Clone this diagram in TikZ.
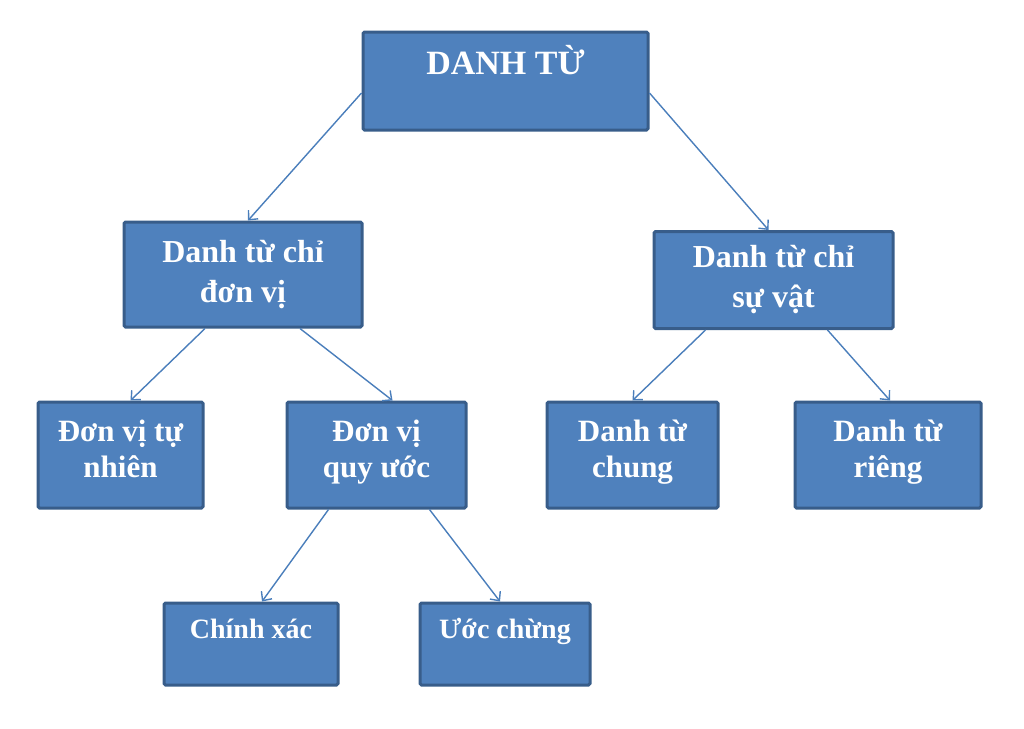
\documentclass[tikz,border=0pt]{standalone}
\usepackage{fontspec}
\setmainfont{Liberation Serif}
\usetikzlibrary{arrows.meta}
\definecolor{boxfill}{HTML}{4F81BD}
\definecolor{boxline}{HTML}{385D8A}
\definecolor{arrline}{HTML}{4A7EBB}
\tikzset{
  box/.style={draw=boxline, fill=boxfill, line width=3pt, rounded corners=1.5pt,
    text=white, font=\bfseries, align=center, inner sep=0pt},
  arr/.style={draw=arrline, line width=1.4pt, ->, >={Straight Barb[length=7pt,width=13pt]}}
}
\begin{document}
\begin{tikzpicture}[x=1pt,y=-1pt]
                \useasboundingbox (0,0) rectangle (1024,728);
                % Levels
                \node[box, minimum width=285pt, minimum height=98pt, text height=22pt, text depth=36pt,
                  font=\bfseries\fontsize{34}{40}\selectfont] (dt) at (505.5,81) {DANH TỪ};
                \node[box, minimum width=238pt, minimum height=105pt,
                  font=\bfseries\fontsize{32}{40}\selectfont] (dv) at (243,274.5) {Danh từ chỉ\\đơn vị};
                \node[box, minimum width=239pt, minimum height=97pt,
                  font=\bfseries\fontsize{32}{40}\selectfont] (sv) at (773.5,280) {Danh từ chỉ\\sự vật};
                
                \node[box, minimum width=165pt, minimum height=106pt, text depth=12pt,
                  font=\bfseries\fontsize{31}{36}\selectfont] (tn) at (120.5,455) {Đơn vị tự\\nhiên};
                \node[box, minimum width=179pt, minimum height=106pt, text depth=12pt,
                  font=\bfseries\fontsize{31}{36}\selectfont] (qu) at (376.5,455) {Đơn vị\\quy ước};
                \node[box, minimum width=171pt, minimum height=106pt, text depth=12pt,
                  font=\bfseries\fontsize{31}{36}\selectfont] (ch) at (632.5,455) {Danh từ\\chung};
                \node[box, minimum width=186pt, minimum height=106pt, text depth=12pt,
                  font=\bfseries\fontsize{31}{36}\selectfont] (ri) at (888,455) {Danh từ\\riêng};
                
                \node[box, minimum width=174pt, minimum height=82pt, text height=20pt, text depth=32pt,
                  font=\bfseries\fontsize{28}{34}\selectfont] (cx) at (251,644) {Chính xác};
                \node[box, minimum width=170pt, minimum height=82pt, text height=20pt, text depth=32pt,
                  font=\bfseries\fontsize{28}{34}\selectfont] (uc) at (505,644) {Ước chừng};
                
                % Arrows
                \draw[arr] ([yshift=-12pt]dt.west) -- ([xshift=5pt]dv.north);
                \draw[arr] ([yshift=-12pt]dt.east) -- ([xshift=-5pt]sv.north);
                \draw[arr] ([xshift=-38pt]dv.south) -- ([xshift=10pt]tn.north);
                \draw[arr] ([xshift=57pt]dv.south) -- ([xshift=16pt]qu.north);
                \draw[arr] ([xshift=-68pt]sv.south) -- (ch.north);
                \draw[arr] ([xshift=54pt]sv.south) -- ([xshift=2pt]ri.north);
                \draw[arr] ([xshift=-48pt]qu.south) -- ([xshift=11pt]cx.north);
                \draw[arr] ([xshift=53pt]qu.south) -- ([xshift=-5pt]uc.north);
              \end{tikzpicture}
\end{document}
